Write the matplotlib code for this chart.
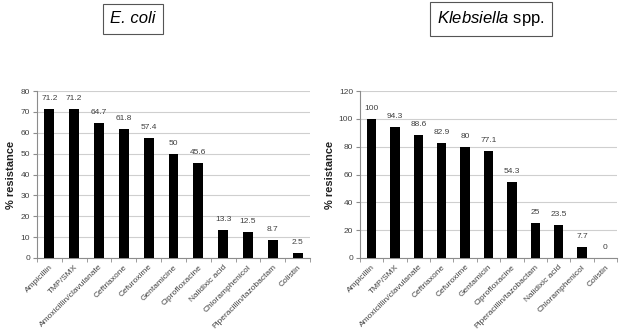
import matplotlib
matplotlib.use("Agg")
import matplotlib.pyplot as plt
import numpy as np

plt.rcParams['font.family'] = ['Liberation Sans', 'DejaVu Sans']
plt.rcParams['mathtext.fontset'] = 'custom'
plt.rcParams['mathtext.it'] = 'Liberation Sans:italic'
plt.rcParams['mathtext.rm'] = 'Liberation Sans'

ecoli_drugs = ["Ampicillin", "TMP/SMX", "Amoxicillin/clavulanate", "Ceftriaxone",
               "Cefuroxime", "Gentamicine", "Ciprofloxacine", "Nalidixic acid",
               "Chloramphenicol", "Piperacillin/tazobactam", "Colistin"]
ecoli_values = [71.2, 71.2, 64.7, 61.8, 57.4, 50, 45.6, 13.3, 12.5, 8.7, 2.5]
ecoli_labels = ["71.2", "71.2", "64.7", "61.8", "57.4", "50", "45.6", "13.3", "12.5", "8.7", "2.5"]

kleb_drugs = ["Ampicillin", "TMP/SMX", "Amoxicillin/clavulanate", "Ceftriaxone",
              "Cefuroxime", "Gentamicin", "Ciprofloxacine", "Piperacillin/tazobactam",
              "Nalidixic acid", "Chloramphenicol", "Colistin"]
kleb_values = [100, 94.3, 88.6, 82.9, 80, 77.1, 54.3, 25, 23.5, 7.7, 0]
kleb_labels = ["100", "94.3", "88.6", "82.9", "80", "77.1", "54.3", "25", "23.5", "7.7", "0"]

fig = plt.figure(figsize=(6.2, 3.31), dpi=100)

grid_c = "#cfcfcf"
axis_c = "#8c8c8c"
text_c = "#404040"


def draw(ax, names, values, labels, ymax, step):
    x = np.arange(len(names))
    ax.bar(x, values, width=0.4, color="black", zorder=3)
    ax.set_xlim(-0.5, len(names) - 0.5)
    ax.set_ylim(0, ymax)
    ax.set_yticks(np.arange(0, ymax + 1, step))
    ax.yaxis.grid(True, color=grid_c, linewidth=0.8, zorder=0)
    for s in ("top", "right"):
        ax.spines[s].set_visible(False)
    for s in ("left", "bottom"):
        ax.spines[s].set_color(axis_c)
        ax.spines[s].set_linewidth(0.8)
    ax.tick_params(axis="y", length=3, color=axis_c, labelsize=6, labelcolor=text_c, pad=2)
    ax.set_xticks(x)
    ax.set_xticklabels(names, rotation=45, ha="right", rotation_mode="anchor",
                       fontsize=6, color=text_c)
    ax.tick_params(axis="x", which="major", length=0, pad=4)
    ax.set_xticks(np.arange(-0.5, len(names), 1.0), minor=True)
    ax.tick_params(axis="x", which="minor", length=3, color=axis_c)
    ax.set_ylabel("% resistance", fontsize=8, fontweight="bold", color="#222222", labelpad=3)
    for xi, v, t in zip(x, values, labels):
        ax.annotate(t, (xi, v), xytext=(0, 5), textcoords="offset points",
                    ha="center", va="bottom", fontsize=6, color=text_c)


ax1 = fig.add_axes([37 / 620, 1 - 258 / 331, (310 - 37) / 620, (258 - 91) / 331])
draw(ax1, ecoli_drugs, ecoli_values, ecoli_labels, 80, 10)

ax2 = fig.add_axes([360 / 620, 1 - 258 / 331, (617 - 360) / 620, (258 - 91) / 331])
draw(ax2, kleb_drugs, kleb_values, kleb_labels, 120, 20)

box = dict(boxstyle="square,pad=0.45", facecolor="white", edgecolor="#555555", linewidth=0.8)
fig.text(133 / 620, 1 - 18.5 / 331, "E. coli", fontsize=12, style="italic",
         ha="center", va="center", bbox=box)
fig.text(491 / 620, 1 - 18.5 / 331, r"$Klebsiella$ spp.", fontsize=12,
         ha="center", va="center", bbox=box)

fig.savefig("out.png", dpi=100)
